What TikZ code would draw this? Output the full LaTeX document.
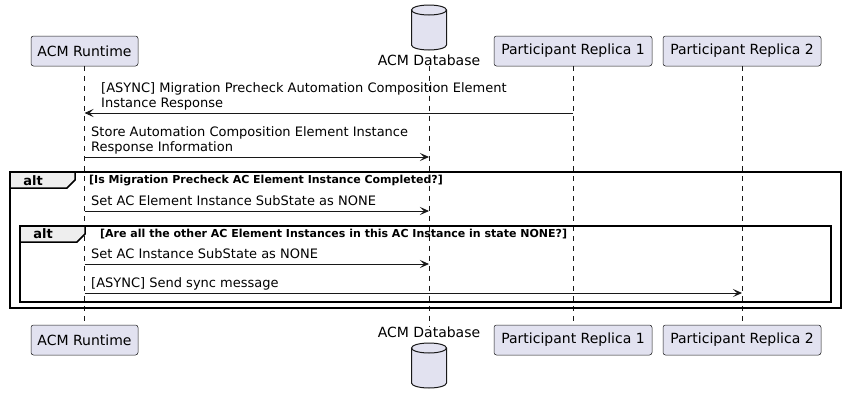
\documentclass[tikz,border=0pt]{standalone}
\usepackage{fontspec}
\setmainfont{DejaVu Sans}
\usetikzlibrary{arrows.meta}
\definecolor{partfill}{HTML}{E2E2F0}
\definecolor{partline}{HTML}{181818}
\definecolor{tabfill}{HTML}{EEEEEE}
\tikzset{
    actor/.style={draw=partline, fill=partfill, line width=0.5pt,
                  rounded corners=2.5pt, minimum height=30pt, inner xsep=5pt,
                  font=\fontsize{14}{16}\selectfont},
    dbname/.style={font=\fontsize{14}{16}\selectfont, inner sep=0pt},
    lifeline/.style={draw=partline, line width=0.5pt, dash pattern=on 5pt off 5pt},
    msg/.style={-{Stealth[length=9pt, width=8pt, inset=4pt]}, line width=0.9pt, draw=partline},
    msgtext/.style={font=\fontsize{13}{15}\selectfont, align=left, inner sep=0pt,
                    anchor=south west, text depth=3pt},
    frame/.style={draw=black, line width=1.5pt},
    tabtext/.style={font=\bfseries\fontsize{13}{15}\selectfont, inner sep=0pt},
    guard/.style={font=\bfseries\fontsize{11}{13}\selectfont, inner sep=0pt, anchor=west},
    database/.pic={
        \path[fill=partfill] (-17.5,5) arc[start angle=180, end angle=360, x radius=17.5, y radius=5]
            -- (17.5,40) arc[start angle=0, end angle=180, x radius=17.5, y radius=5] -- cycle;
        \draw[partline, line width=1pt] (0,5) ellipse[x radius=17.5, y radius=5];
        \draw[partline, line width=1pt] (-17.5,5) -- (-17.5,40)
            arc[start angle=180, end angle=0, x radius=17.5, y radius=5] -- (17.5,5);
    },
}

\begin{document}
\begin{tikzpicture}[x=1pt, y=-1pt]
    \useasboundingbox (0,0) rectangle (846,402);

    % participants, top and bottom
    \node[actor, minimum width=107pt] (runtime) at (84.5,51) {ACM Runtime};
    \pic at (429,5) {database};
    \node[dbname] (dbtop) at (429,60) {ACM Database};
    \node[actor, minimum width=158pt] (replicaone) at (573,51) {Participant Replica 1};
    \node[actor, minimum width=158pt] (replicatwo) at (742,51) {Participant Replica 2};

    \node[actor, minimum width=107pt] (runtimeend) at (84.5,340) {ACM Runtime};
    \node[dbname] (dbend) at (429,332) {ACM Database};
    \pic at (429,343) {database};
    \node[actor, minimum width=158pt] (replicaoneend) at (573,340) {Participant Replica 1};
    \node[actor, minimum width=158pt] (replicatwoend) at (742,340) {Participant Replica 2};

    \draw[lifeline] (runtime) -- (runtimeend);
    \draw[lifeline] (dbtop) -- (dbend);
    \draw[lifeline] (replicaone) -- (replicaoneend);
    \draw[lifeline] (replicatwo) -- (replicatwoend);

    % alt frames
    \draw[frame] (10,172) rectangle (841,308);
    \draw[frame, fill=tabfill] (10,172) -- (75,172) -- (75,180) -- (67,188) -- (10,188) -- cycle;
    \node[tabtext] (altouter) at (33,180.5) {alt};
    \node[guard] (guardouter) at (89,181) {[Is Migration Precheck AC Element Instance Completed?]};

    \draw[frame] (20,226) rectangle (831,302);
    \draw[frame, fill=tabfill] (20,226) -- (85,226) -- (85,234) -- (77,242) -- (20,242) -- cycle;
    \node[tabtext] (altinner) at (43,234) {alt};
    \node[guard] (guardinner) at (100,234) {[Are all the other AC Element Instances in this AC Instance in state NONE?]};

    % messages
    \draw[msg] (replicaone |- 0,113) -- (runtime |- 0,113);
    \node[msgtext] (precheck) at (101,111) {[ASYNC] Migration Precheck Automation Composition Element\\Instance Response};

    \draw[msg] (runtime |- 0,157) -- (dbtop |- 0,157);
    \node[msgtext] (store) at (91,155) {Store Automation Composition Element Instance\\Response Information};

    \draw[msg] (runtime |- 0,211) -- (dbtop |- 0,211);
    \node[msgtext] (elemstate) at (91,209) {Set AC Element Instance SubState as NONE};

    \draw[msg] (runtime |- 0,264) -- (dbtop |- 0,264);
    \node[msgtext] (inststate) at (91,262) {Set AC Instance SubState as NONE};

    \draw[msg] (runtime |- 0,293) -- (replicatwo |- 0,293);
    \node[msgtext] (sync) at (91,291) {[ASYNC] Send sync message};
\end{tikzpicture}
\end{document}
